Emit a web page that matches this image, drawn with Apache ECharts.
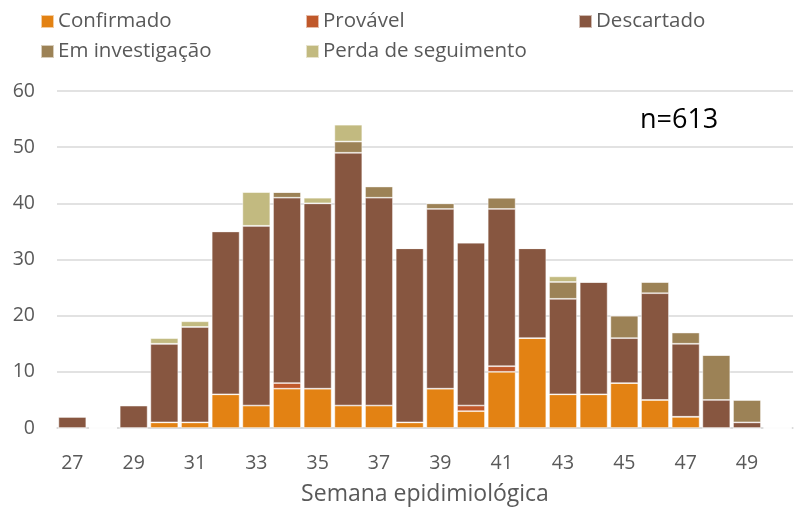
<!DOCTYPE html>
<title>semanas</title>
<style>
body {
    margin: 0;
}
#echart {
    height: 512px;
    width: 802px;
}
</style>
<div id='echart'></div>
<script src='https://cdn.jsdelivr.net/npm/echarts@6.0.0/dist/echarts.min.js'></script>
<script>
// week 50 is an empty slot at the end of the axis
let weeks = ['27','28','29','30','31','32','33','34','35','36','37','38','39','40','41','42','43','44','45','46','47','48','49','50']
let confirmado = [0,0,0,1,1,6,4,7,7,4,4,1,7,3,10,16,6,6,8,5,2,0,0,0]
let provavel = [0,0,0,0,0,0,0,1,0,0,0,0,0,1,1,0,0,0,0,0,0,0,0,0]
let descartado = [2,0,4,14,17,29,32,33,33,45,37,31,32,29,28,16,17,20,8,19,13,5,1,0]
let investigacao = [0,0,0,0,0,0,0,1,0,2,2,0,1,0,2,0,3,0,4,2,2,8,4,0]
let perda = [0,0,0,1,1,0,6,0,1,3,0,0,0,0,0,0,1,0,0,0,0,0,0,0]
let names = ['Confirmado', 'Provável', 'Descartado', 'Em investigação', 'Perda de seguimento']
let colors = ['#e38213', '#c0582a', '#875640', '#9c8256', '#c2ba80']
let values = [confirmado, provavel, descartado, investigacao, perda]
let legend_pos = [[40, 11], [305, 11], [578, 11], [40, 41], [305, 41]]

let font = 'Open Sans'
let echart = echarts.init(document.querySelector('#echart'))
let option = {
    color: colors,
    textStyle: {fontFamily: font},
    grid: {left: 57, right: 9, top: 91, bottom: 84},
    legend: names.map((name, i) => ({
        data: [name], left: legend_pos[i][0], top: legend_pos[i][1], padding: 0,
        itemWidth: 13, itemHeight: 13, itemGap: 4, icon: 'rect',
        textStyle: {fontSize: 20.5, color: '#595959', fontFamily: font, padding: [0, 0, 0, -1]},
    })),
    xAxis: {
        type: 'category', data: weeks,
        name: 'Semana epidimiológica', nameLocation: 'middle', nameGap: 55,
        nameTextStyle: {fontSize: 23, color: '#595959'},
        axisLine: {lineStyle: {color: '#d9d9d9', width: 1.5}},
        axisTick: {show: false},
        axisLabel: {interval: 1, fontSize: 19.5, color: '#595959', margin: 25},
    },
    yAxis: {
        type: 'value', min: 0, max: 60, interval: 10,
        axisLabel: {fontSize: 19.5, color: '#595959', margin: 22},
        splitLine: {lineStyle: {color: '#d9d9d9', width: 1.5}},
    },
    series: names.map((name, i) => ({
        name, type: 'bar', stack: 'all', data: values[i],
        barCategoryGap: '9%',
        itemStyle: {borderColor: 'rgba(255,255,255,0.6)', borderWidth: 0.8},
    })),
    graphic: [{
        type: 'text', left: 640, top: 107,
        style: {text: 'n=613', fontSize: 27, fill: '#000', fontFamily: font},
    }],
}
echart.setOption(option)
</script>
